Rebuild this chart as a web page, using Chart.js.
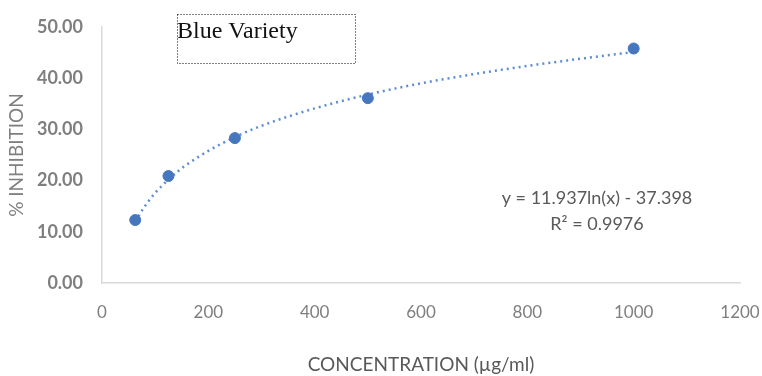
<!DOCTYPE html>
<html>
<head>
<meta charset="utf-8">
<script src="https://cdn.jsdelivr.net/npm/chart.js@4"></script>
<style>
  html, body { margin: 0; padding: 0; background: #fff; }
  #wrap { width: 762px; height: 376px; }
</style>
</head>
<body>
<div id="wrap"><canvas id="chart"></canvas></div>
<script>
// measured points
var concentration = [62.5, 125, 250, 500, 1000];
var inhibition = [12.3, 20.9, 28.3, 36.1, 45.8];

// dotted log trendline
var trendX = [62.5, 80, 100, 125, 150, 200, 250, 300, 400, 500, 600, 700, 800, 900, 1000];
var trendY = [12.0, 14.9, 17.6, 20.2, 22.4, 25.8, 28.5, 30.7, 34.1, 36.8, 39.0, 40.8, 42.4, 43.8, 45.1];

var xTicks = [0, 200, 400, 600, 800, 1000, 1200];
var yTicks = [0, 10, 20, 30, 40, 50];

var chartTitle = 'Blue Variety';
var equationLines = ['y = 11.937ln(x) - 37.398', 'R\u00b2 = 0.9976'];

var points = concentration.map(function (x, i) { return { x: x, y: inhibition[i] }; });
var trend = trendX.map(function (x, i) { return { x: x, y: trendY[i] }; });

// title box and trendline equation, like the Excel text boxes
var textBoxes = {
    id: 'textBoxes',
    afterDraw: function (chart) {
        var ctx = chart.ctx;
        ctx.save();
        ctx.strokeStyle = '#000';
        ctx.lineWidth = 1;
        ctx.setLineDash([1, 2]);
        ctx.strokeRect(177.5, 14.5, 178, 49);
        ctx.setLineDash([]);
        ctx.fillStyle = '#111';
        ctx.font = '24px "Liberation Serif"';
        ctx.textBaseline = 'alphabetic';
        ctx.textAlign = 'left';
        ctx.fillText(chartTitle, 177, 38);

        ctx.fillStyle = '#595959';
        ctx.font = '18px Lato';
        ctx.textAlign = 'center';
        ctx.textBaseline = 'middle';
        ctx.fillText(equationLines[0], 597, 198);
        ctx.fillText(equationLines[1], 597, 224);
        ctx.restore();
    }
};

new Chart(document.getElementById('chart'), {
    type: 'scatter',
    data: {
        datasets: [
            {
                label: 'trend',
                type: 'line',
                data: trend,
                borderColor: '#5b8ed4',
                borderWidth: 2.5,
                borderDash: [2, 4],
                pointRadius: 0,
                fill: false,
                cubicInterpolationMode: 'monotone',
                order: 2
            },
            {
                label: 'inhibition',
                data: points,
                backgroundColor: '#4677be',
                borderColor: '#4677be',
                pointRadius: 5.5,
                pointHoverRadius: 5.5,
                order: 1
            }
        ]
    },
    options: {
        responsive: true,
        maintainAspectRatio: false,
        animation: false,
        layout: { padding: { left: 0, top: 27, right: 22, bottom: 0 } },
        plugins: { legend: { display: false }, tooltip: { enabled: false } },
        scales: {
            x: {
                type: 'linear',
                min: 0,
                max: 1200,
                afterBuildTicks: function (scale) {
                    scale.ticks = xTicks.map(function (v) { return { value: v }; });
                },
                afterFit: function (scale) {
                    scale.height = 93;
                    scale.paddingLeft = 0;
                    scale.paddingRight = 0;
                },
                grid: { display: false, drawTicks: false },
                border: { display: true, color: '#d9d9d9', width: 1.5 },
                ticks: {
                    color: '#7f7f7f',
                    font: { family: 'Lato', size: 17 },
                    padding: 19,
                    maxRotation: 0,
                    callback: function (v) { return String(v); }
                },
                title: {
                    display: true,
                    text: 'CONCENTRATION (\u00b5g/ml)',
                    color: '#595959',
                    font: { family: 'Lato', size: 19 },
                    padding: { top: 0, bottom: 0 }
                }
            },
            y: {
                type: 'linear',
                min: 0,
                max: 50,
                afterBuildTicks: function (scale) {
                    scale.ticks = yTicks.map(function (v) { return { value: v }; });
                },
                afterFit: function (scale) {
                    scale.width = 102;
                    scale.paddingTop = 0;
                    scale.paddingBottom = 0;
                },
                grid: { display: false, drawTicks: false },
                border: { display: true, color: '#d9d9d9', width: 1.5 },
                ticks: {
                    color: '#7f7f7f',
                    font: { family: 'Lato', size: 18, weight: 'bold' },
                    padding: 19,
                    callback: function (v) { return v.toFixed(2); }
                },
                title: {
                    display: true,
                    text: '% INHIBITION',
                    color: '#7f7f7f',
                    font: { family: 'Lato', size: 19 },
                    padding: { top: 5, bottom: 0 }
                }
            }
        }
    },
    plugins: [textBoxes]
});
</script>
</body>
</html>
